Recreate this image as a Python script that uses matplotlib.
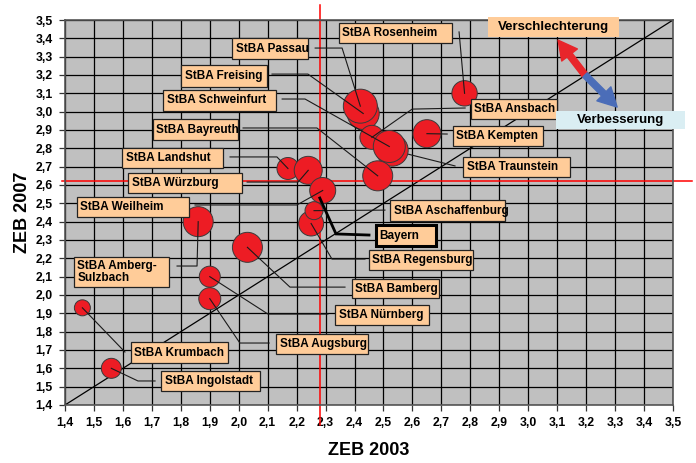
import matplotlib
matplotlib.use("Agg")
import matplotlib.pyplot as plt
from matplotlib.patches import Rectangle
from matplotlib.ticker import MultipleLocator, FuncFormatter

plt.rcParams["font.family"] = ["Liberation Sans", "DejaVu Sans"]
plt.rcParams["font.weight"] = "bold"

# =============================================================
# DATEN
# =============================================================

aemter = ["StBA Freising", "StBA Passau", "StBA Rosenheim", "StBA Kempten",
          "StBA Ansbach", "StBA Traunstein", "StBA Schweinfurt", "StBA Bayreuth",
          "StBA Landshut", "StBA Würzburg", "StBA Weilheim", "StBA Regensburg",
          "StBA Aschaffenburg", "StBA Amberg-Sulzbach", "StBA Bamberg",
          "StBA Nürnberg", "StBA Augsburg", "StBA Krumbach", "StBA Ingolstadt"]

zeb_2003 = [2.43, 2.42, 2.78, 2.65, 2.46, 2.53, 2.52, 2.48, 2.17, 2.24,
            2.29, 2.25, 2.26, 1.86, 2.03, 1.90, 1.90, 1.46, 1.56]
zeb_2007 = [2.99, 3.03, 3.10, 2.88, 2.86, 2.79, 2.81, 2.65, 2.69, 2.68,
            2.57, 2.39, 2.46, 2.40, 2.26, 2.10, 1.98, 1.93, 1.60]
# Blasengroesse (Radius in Pixel)
blase = [16, 17, 12.7, 14, 12, 16, 16, 15, 11, 14,
         13, 12.5, 9, 15, 15, 10.5, 11, 8, 10]

bayern_2003 = 2.28
bayern_2007 = 2.62

ticks = [round(1.4 + i * 0.1, 1) for i in range(22)]

# =============================================================
# BESCHRIFTUNGEN (Kasten x0, x1, y0, y1 und Knickpunkte der Linie)
# =============================================================

beschriftung = {
    "StBA Passau": ((1.977, 2.239, 3.287, 3.402), [(2.264, 3.347), (2.357, 3.347)]),
    "StBA Rosenheim": ((2.346, 2.737, 3.375, 3.484), [(2.761, 3.435)]),
    "StBA Freising": ((1.801, 2.098, 3.134, 3.254), [(2.115, 3.205), (2.239, 3.205)]),
    "StBA Schweinfurt": ((1.739, 2.129, 3.004, 3.118), [(2.150, 3.069), (2.229, 3.069)]),
    "StBA Bayreuth": ((1.704, 1.998, 2.845, 2.960), [(2.015, 2.911), (2.270, 2.911)]),
    "StBA Landshut": ((1.597, 1.946, 2.693, 2.802), [(1.970, 2.753), (2.132, 2.753)]),
    "StBA Würzburg": ((1.618, 2.011, 2.556, 2.665), [(2.029, 2.616), (2.205, 2.616)]),
    "StBA Weilheim": ((1.441, 1.828, 2.425, 2.534), [(1.849, 2.491), (2.201, 2.491)]),
    "StBA Aschaffenburg": ((2.523, 2.920, 2.403, 2.518), [(2.505, 2.463)]),
    "StBA Regensburg": ((2.450, 2.809, 2.136, 2.245), [(2.436, 2.196), (2.322, 2.196)]),
    "StBA Amberg-Sulzbach": ((1.431, 1.759, 2.043, 2.207), [(1.787, 2.158), (1.856, 2.158)]),
    "StBA Bamberg": ((2.391, 2.692, 1.983, 2.087), [(2.367, 2.043), (2.177, 2.043)]),
    "StBA Nürnberg": ((2.333, 2.657, 1.836, 1.945), [(2.308, 1.896), (2.101, 1.896)]),
    "StBA Augsburg": ((2.129, 2.447, 1.678, 1.787), [(2.105, 1.738), (2.004, 1.738)]),
    "StBA Krumbach": ((1.628, 1.963, 1.629, 1.743), [(1.607, 1.689)]),
    "StBA Ingolstadt": ((1.732, 2.074, 1.476, 1.585), [(1.711, 1.531), (1.652, 1.531)]),
    "StBA Kempten": ((2.740, 3.051, 2.813, 2.922), [(2.720, 2.878)]),
    "StBA Ansbach": ((2.802, 3.099, 2.960, 3.069), [(2.782, 3.020), (2.599, 3.014)]),
    "StBA Traunstein": ((2.775, 3.144, 2.643, 2.753), [(2.747, 2.704)]),
}

PFIRSICH = "#FFCC99"
ROT = "#ED1C24"


def kasten(ax, box, text, ha="left", face=PFIRSICH, edge="#222222", lw=0.9, size=8.5):
    x0, x1, y0, y1 = box
    ax.add_patch(Rectangle((x0, y0), x1 - x0, y1 - y0, facecolor=face,
                           edgecolor=edge, lw=lw, zorder=5, clip_on=False))
    tx = x0 + 0.012 if ha == "left" else (x0 + x1) / 2
    ax.text(tx, (y0 + y1) / 2, text, ha=ha, va="center", fontsize=size,
            fontweight="bold", zorder=6, linespacing=1.0, clip_on=False)


# =============================================================
# GRAFIK
# =============================================================

fig = plt.figure(figsize=(6.96, 4.63), dpi=100)
ax = fig.add_axes([0.0934, 0.1253, 0.8736, 0.8315])
ax.set_facecolor("#C0C0C0")
ax.set_xlim(1.4, 3.5)
ax.set_ylim(1.4, 3.5)
ax.xaxis.set_major_locator(MultipleLocator(0.1))
ax.yaxis.set_major_locator(MultipleLocator(0.1))
fmt = FuncFormatter(lambda v, p: f"{v:.1f}".replace(".", ","))
ax.xaxis.set_major_formatter(fmt)
ax.yaxis.set_major_formatter(fmt)
ax.set_axisbelow(True)
ax.grid(True, color="black", lw=0.9)
ax.tick_params(direction="out", length=4, width=0.9, color="#333333",
               labelsize=8.8, pad=5)
for lab in ax.get_xticklabels() + ax.get_yticklabels():
    lab.set_fontweight("bold")
for sp in ax.spines.values():
    sp.set_color("#555555")
    sp.set_linewidth(1.2)

# Diagonale
ax.plot([ticks[0], ticks[-1]], [ticks[0], ticks[-1]], color="black", lw=0.9, zorder=1)

# Bayern-Mittelwerte
ax.plot([bayern_2003, bayern_2003], [1.29, 3.58], color="#FF0000", lw=1.1,
        zorder=1.5, clip_on=False)
ax.plot([1.39, 3.566], [bayern_2007, bayern_2007], color="#FF0000", lw=1.1,
        zorder=1.5, clip_on=False)

# Blasen
groessen = [(1.44 * r) ** 2 for r in blase]
ax.scatter(zeb_2003, zeb_2007, s=groessen, color=ROT, edgecolors="#3a3a3a",
           linewidths=0.7, zorder=3)

# Beschriftungen mit Linien
for name, x, y in zip(aemter, zeb_2003, zeb_2007):
    box, knick = beschriftung[name]
    pts = knick + [(x, y)]
    z = 2 if name == "StBA Traunstein" else 4
    ax.plot([p[0] for p in pts], [p[1] for p in pts], color="#1a1a1a",
            lw=0.8, zorder=z)
    text = "StBA Amberg-\nSulzbach" if name == "StBA Amberg-Sulzbach" else name
    kasten(ax, box, text)

# Bayern
ax.plot([bayern_2003, 2.336, 2.450], [2.529, 2.333, 2.327], color="black",
        lw=2.0, zorder=4, solid_joinstyle="miter")
kasten(ax, (2.474, 2.682, 2.267, 2.382), "Bayern", edge="black", lw=2.2)

# Pfeile
mitte = (3.196, 3.20)
pfeil = "simple,head_length=0.9,head_width=0.95,tail_width=0.3"
ax.annotate("", xy=(3.103, 3.39), xytext=mitte,
            arrowprops=dict(arrowstyle=pfeil, color="#E8262B", mutation_scale=15,
                            shrinkA=0, shrinkB=0),
            zorder=5)
ax.annotate("", xy=(3.307, 3.025), xytext=mitte,
            arrowprops=dict(arrowstyle=pfeil, color="#4B6DB8", mutation_scale=15,
                            shrinkA=0, shrinkB=0),
            zorder=5)
kasten(ax, (2.861, 3.314, 3.407, 3.516), "Verschlechterung", ha="center",
       edge="none", size=9.5)
kasten(ax, (3.096, 3.542, 2.905, 3.004), "Verbesserung", ha="center",
       face="#DAEEF3", edge="none", size=9.5)

ax.set_xlabel("ZEB 2003", fontsize=13, fontweight="bold", labelpad=9)
ax.set_ylabel("ZEB 2007", fontsize=13, fontweight="bold", labelpad=3)

fig.savefig("out.png", dpi=100)
